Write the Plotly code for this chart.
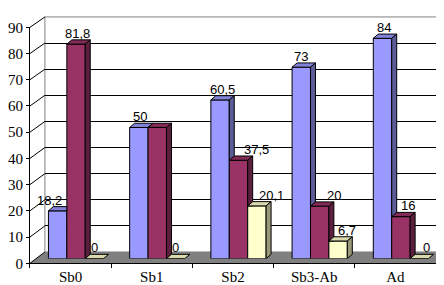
import plotly.graph_objects as go

# ---------------- data ----------------
categories = ["Sb0", "Sb1", "Sb2", "Sb3-Ab", "Ad"]
series_blue = [18.2, 50, 60.5, 73, 84]
series_maroon = [81.8, 50, 37.5, 20, 16]
series_yellow = [0, 0, 20.1, 6.7, 0]
y_ticks = [0, 10, 20, 30, 40, 50, 60, 70, 80, 90]

# ---------------- style / layout ----------------
W, H = 444, 285
front_colors = ["#9999FF", "#993366", "#FFFFCC"]
side_colors = ["#5C5C99", "#5C1F3D", "#99997A"]
top_colors = ["#8282D9", "#822B57", "#D9D9AD"]
# label horizontal nudges in pixels (None = label hidden)
label_shift = [
    [-8, 1, 2.5, 0, 1],
    [1, None, 18.5, 14, 7.5],
    [0, 0, 15, 9, 7.5],
]

FRONT = (21, 428, 262, 12)   # x0, x1, y(0), y(90) in pixels
BARS = (26.5, 433.5, 257, 7)
WALL = (36, 441, 250, 1)
YMAX = 90

SERIF_FONT = dict(family="Liberation Serif", size=15, color="black")
SANS_FONT = dict(family="Liberation Sans", size=13, color="black")


def dom_x(a, b):
    return [a / W, b / W]


def dom_y(bottom, top):
    return [1 - bottom / H, 1 - top / H]


ncat = len(categories)
cat_px = (BARS[1] - BARS[0]) / ncat
val_px = (BARS[2] - BARS[3]) / YMAX
dx_u = 5.0 / cat_px
dy_u = 4.5 / val_px
bw = 0.2267
offsets = [-bw, 0, bw]

series = [series_blue, series_maroon, series_yellow]

fig = go.Figure()

# back wall subplot (x, y)
fig.add_trace(go.Scatter(x=[0], y=[0], mode="markers", marker=dict(opacity=0),
                         hoverinfo="skip", showlegend=False, xaxis="x", yaxis="y"))
# front axes subplot (x2, y2)
fig.add_trace(go.Scatter(x=categories, y=[0] * ncat, mode="markers", marker=dict(opacity=0),
                         hoverinfo="skip", showlegend=False, xaxis="x2", yaxis="y2"))

xs = list(range(ncat))
for s, vals in enumerate(series):
    fig.add_trace(go.Bar(
        x=xs, y=vals, width=bw, offset=offsets[s] - bw / 2,
        marker=dict(color=front_colors[s], line=dict(color="black", width=1)),
        xaxis="x3", yaxis="y3", showlegend=False, hoverinfo="skip",
    ))


def clip(poly, inside, inter):
    out = []
    n = len(poly)
    for i in range(n):
        cur, prev = poly[i], poly[i - 1]
        if inside(cur):
            if not inside(prev):
                out.append(inter(prev, cur))
            out.append(cur)
        elif inside(prev):
            out.append(inter(prev, cur))
    return out


def clip_y_above(poly, yc):
    def inter(p, q):
        t = (yc - p[1]) / (q[1] - p[1])
        return (p[0] + t * (q[0] - p[0]), yc)
    return clip(poly, lambda p: p[1] >= yc, inter)


def clip_x_left(poly, xc):
    def inter(p, q):
        t = (xc - p[0]) / (q[0] - p[0])
        return (xc, p[1] + t * (q[1] - p[1]))
    return clip(poly, lambda p: p[0] <= xc + 1e-9, inter)


def add_poly(poly, color):
    if len(poly) < 3:
        return
    px = [p[0] for p in poly] + [poly[0][0]]
    py = [p[1] for p in poly] + [poly[0][1]]
    fig.add_trace(go.Scatter(x=px, y=py, mode="lines", fill="toself", fillcolor=color,
                             line=dict(color="black", width=1), hoverinfo="skip",
                             showlegend=False, xaxis="x3", yaxis="y3"))


for s, vals in enumerate(series):
    for c in xs:
        v = vals[c]
        xl = c + offsets[s] - bw / 2
        xr = xl + bw
        v_next = series[s + 1][c] if s + 1 < len(series) else 0
        top = [(xl, v), (xr, v), (xr + dx_u, v + dy_u), (xl + dx_u, v + dy_u)]
        if v_next >= v + dy_u / 2:
            top = clip_x_left(top, xr)
        add_poly(top, top_colors[s])
        if v > 0:
            side = [(xr, 0), (xr + dx_u, dy_u), (xr + dx_u, v + dy_u), (xr, v)]
            if v_next > 0:
                side = clip_y_above(side, v_next)
            add_poly(side, side_colors[s])

# data labels
annotations = []
for s, vals in enumerate(series):
    for c in xs:
        sh = label_shift[s][c]
        if sh is None:
            continue
        v = vals[c]
        annotations.append(dict(
            x=c + offsets[s], y=v + dy_u, xref="x3", yref="y3",
            text=f"{v:g}".replace(".", ","), showarrow=False,
            xanchor="center", yanchor="bottom", xshift=sh, yshift=-3,
            font=SANS_FONT,
        ))

# decorative shapes: floor, wall border, side-wall lines
shapes = []
fy0 = FRONT[2]
wy0 = WALL[2]
shapes.append(dict(
    type="path", xref="paper", yref="paper", layer="below",
    path=(f"M {FRONT[0]/W},{1-fy0/H} L {FRONT[1]/W},{1-fy0/H} "
          f"L {WALL[1]/W},{1-wy0/H} L {WALL[0]/W},{1-wy0/H} Z"),
    fillcolor="#808080", line=dict(width=0),
))
shapes.append(dict(
    type="rect", xref="paper", yref="paper", layer="below",
    x0=WALL[0] / W, x1=WALL[1] / W, y0=1 - WALL[2] / H, y1=1 - WALL[3] / H,
    line=dict(color="#808080", width=1), fillcolor="rgba(0,0,0,0)",
))
for t in y_ticks:
    yf = FRONT[2] - t * (FRONT[2] - FRONT[3]) / YMAX
    yb = WALL[2] - t * (WALL[2] - WALL[3]) / YMAX
    shapes.append(dict(
        type="line", xref="paper", yref="paper", layer="below",
        x0=FRONT[0] / W, y0=1 - yf / H, x1=WALL[0] / W, y1=1 - yb / H,
        line=dict(color="black", width=1),
    ))

fig.update_layout(
    width=W, height=H,
    margin=dict(l=0, r=0, t=0, b=0),
    paper_bgcolor="white", plot_bgcolor="rgba(0,0,0,0)",
    showlegend=False, barmode="overlay",
    annotations=annotations, shapes=shapes,
    # back wall
    xaxis=dict(domain=dom_x(WALL[0], WALL[1]), range=[0, 1], showgrid=False,
               showticklabels=False, zeroline=False, showline=False, ticks=""),
    yaxis=dict(domain=dom_y(WALL[2], WALL[3]), range=[0, YMAX], tickvals=y_ticks[1:-1],
               showgrid=True, gridcolor="black", gridwidth=1, showticklabels=False,
               zeroline=False, showline=False, ticks=""),
    # bar plane
    xaxis3=dict(domain=dom_x(BARS[0], BARS[1]), anchor="y3", range=[-0.5, ncat - 0.5],
                visible=False, showgrid=False, zeroline=False),
    yaxis3=dict(domain=dom_y(BARS[2], BARS[3]), anchor="x3", range=[0, YMAX],
                visible=False, showgrid=False, zeroline=False),
)
# front axes (set separately so the tick fonts are applied explicitly)
fig.update_layout(
    xaxis2=dict(domain=dom_x(FRONT[0], FRONT[1]), anchor="y2", type="category",
                categoryorder="array", categoryarray=categories, range=[-0.5, ncat - 0.5],
                showline=True, linecolor="black", linewidth=1, ticks="outside",
                tickson="boundaries", ticklen=4, tickcolor="black", showgrid=False,
                zeroline=False),
    yaxis2=dict(domain=dom_y(FRONT[2], FRONT[3]), anchor="x2", range=[0, YMAX],
                tickvals=y_ticks, showline=True, linecolor="black", linewidth=1,
                ticks="outside", ticklen=3, tickcolor="black", showgrid=False,
                zeroline=False),
)
fig.update_xaxes(tickfont=SERIF_FONT, selector=dict(anchor="y2"))
fig.update_yaxes(tickfont=SERIF_FONT, selector=dict(anchor="x2"))
fig.layout.xaxis2.tickfont.family = "Liberation Serif"
fig.layout.yaxis2.tickfont.family = "Liberation Serif"

fig.write_html("out.html")
